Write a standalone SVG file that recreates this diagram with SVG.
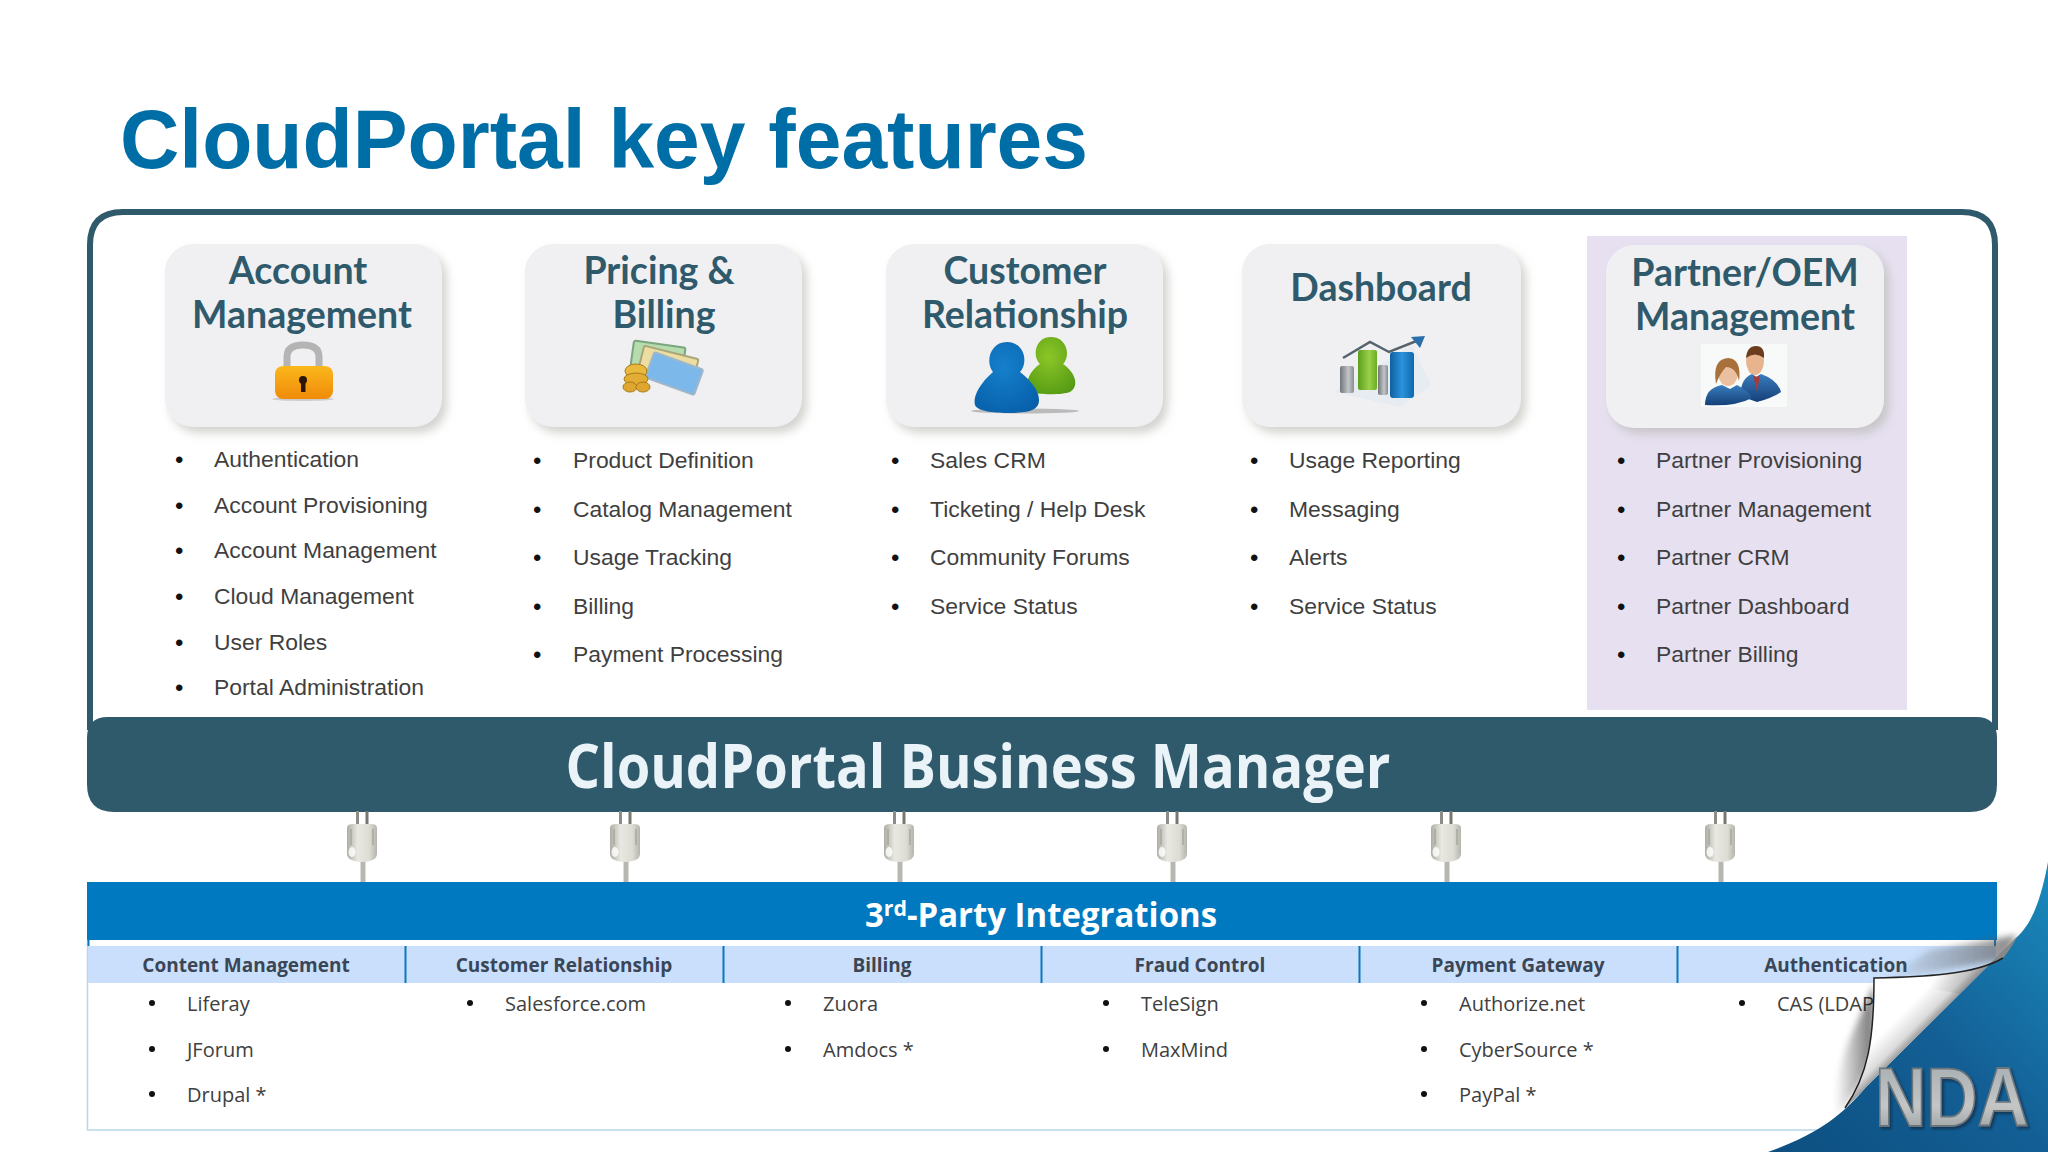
<svg xmlns="http://www.w3.org/2000/svg" width="2048" height="1152" viewBox="0 0 2048 1152">
<style>
.h{font-family:"Lato","Open Sans",sans-serif;font-weight:700;font-size:37.500px;fill:#2f5a6c;text-anchor:middle}
.l{font-family:"Liberation Sans",Arial,sans-serif;font-size:22.900px;fill:#3f3f3f}
.b{font-family:"Liberation Sans",Arial,sans-serif;font-size:24px;fill:#111}
.th{font-family:"Open Sans",sans-serif;font-weight:700;font-size:19px;fill:#3a4656;text-anchor:middle}
.i{font-family:"Open Sans",sans-serif;font-size:20px;fill:#404040}
.card{fill:#f0f0f2;filter:url(#sh)}
</style>
<defs>
<filter id="sh" x="-15%" y="-15%" width="130%" height="130%"><feDropShadow dx="5" dy="6" stdDeviation="5" flood-color="#b5b5ae" flood-opacity=".6"/></filter>
<filter id="soft" x="-20%" y="-20%" width="140%" height="140%"><feGaussianBlur stdDeviation="3"/></filter>
<filter id="ndaS" x="-10%" y="-10%" width="120%" height="120%"><feDropShadow dx="2" dy="2" stdDeviation="1" flood-color="#0a3250" flood-opacity=".8"/></filter>
<linearGradient id="lk" x1="0" y1="0" x2="0" y2="1"><stop offset="0" stop-color="#fbb81c"/><stop offset="1" stop-color="#f08a08"/></linearGradient>
<linearGradient id="plug" x1="0" y1="0" x2="1" y2="0"><stop offset="0" stop-color="#aeada5"/><stop offset=".35" stop-color="#e8e7e1"/><stop offset=".75" stop-color="#dcdbd4"/><stop offset="1" stop-color="#b5b4ac"/></linearGradient>
<linearGradient id="corner" x1="0" y1="1" x2="1" y2="0"><stop offset="0" stop-color="#0d4f80"/><stop offset=".5" stop-color="#135f95"/><stop offset="1" stop-color="#1a8abd"/></linearGradient>
<linearGradient id="flap" gradientUnits="userSpaceOnUse" x1="1874" y1="978" x2="1925" y2="1029"><stop offset="0" stop-color="#fff"/><stop offset=".62" stop-color="#fff"/><stop offset=".88" stop-color="#dcdcdc"/><stop offset="1" stop-color="#9a9a9a"/></linearGradient>
<linearGradient id="flap2" gradientUnits="userSpaceOnUse" x1="1930" y1="0" x2="2017" y2="0"><stop offset="0" stop-color="#777" stop-opacity="0"/><stop offset="1" stop-color="#777" stop-opacity=".6"/></linearGradient>
<linearGradient id="sh1" gradientUnits="userSpaceOnUse" x1="1835" y1="0" x2="1874" y2="0"><stop offset="0" stop-color="#000" stop-opacity="0"/><stop offset="1" stop-color="#000" stop-opacity=".55"/></linearGradient>
<linearGradient id="sh2" gradientUnits="userSpaceOnUse" x1="1885" y1="0" x2="2015" y2="0"><stop offset="0" stop-color="#555" stop-opacity="0"/><stop offset="1" stop-color="#555" stop-opacity=".7"/></linearGradient>
<linearGradient id="nda" x1="0" y1="0" x2="0" y2="1"><stop offset="0" stop-color="#a0a8ad"/><stop offset=".6" stop-color="#c4c6c6"/><stop offset="1" stop-color="#8a9193"/></linearGradient>
<linearGradient id="barB" x1="0" y1="0" x2="1" y2="0"><stop offset="0" stop-color="#0f5f9f"/><stop offset=".5" stop-color="#2b93dc"/><stop offset="1" stop-color="#0f68ad"/></linearGradient>
<linearGradient id="barG" x1="0" y1="0" x2="1" y2="0"><stop offset="0" stop-color="#5c9f1e"/><stop offset=".6" stop-color="#9ad04a"/><stop offset="1" stop-color="#6bad24"/></linearGradient>
<linearGradient id="barN" x1="0" y1="0" x2="1" y2="0"><stop offset="0" stop-color="#70757a"/><stop offset=".6" stop-color="#c3c6c9"/><stop offset="1" stop-color="#8a8d90"/></linearGradient>
<radialGradient id="pb" cx=".45" cy=".35" r=".8"><stop offset="0" stop-color="#1580cc"/><stop offset="1" stop-color="#065ca6"/></radialGradient>
<radialGradient id="pg" cx=".45" cy=".35" r=".8"><stop offset="0" stop-color="#8cc627"/><stop offset="1" stop-color="#4f9612"/></radialGradient>
<linearGradient id="suit" x1="0" y1="0" x2="0" y2="1"><stop offset="0" stop-color="#3a7dbd"/><stop offset="1" stop-color="#143f78"/></linearGradient>
<g id="plugS">
<rect x="-6" y="0" width="3" height="14" fill="#8d8d88"/><rect x="3.500" y="0" width="3" height="14" fill="#77776f"/>
<rect x="-1.500" y="50" width="5" height="21" fill="#b7b7b2"/>
<path d="M-15 17Q-15 13 -9 13H9Q15 13 15 17V43Q15 48 8 50Q0 52 -8 50Q-15 48 -15 43Z" fill="url(#plug)"/>
<path d="M-11 18V34M11 18V34" stroke="#a9a89f" stroke-width="1.500" fill="none"/>
<ellipse cx="-10" cy="41" rx="3.500" ry="5" fill="#fff" opacity=".8"/>
</g>
</defs>
<rect width="2048" height="1152" fill="#fff"/>
<text x="120" y="168" font-family="Liberation Sans,Arial,sans-serif" font-weight="700" font-size="84" fill="#006ea6" textLength="968" lengthAdjust="spacingAndGlyphs">CloudPortal key features</text>

<g id="frame"><path d="M90 730V245Q90 212 123 212H1962Q1995 212 1995 245V730" fill="none" stroke="#2f5a6c" stroke-width="6"/></g>
<g id="partner-panel"><rect x="1587" y="236" width="320" height="474" fill="#e6e0f0"/></g>

<g id="account-management">
<rect class="card" x="165" y="244" width="277" height="183" rx="28"/>
<text class="h" x="298" y="284">Account</text><text class="h" x="302" y="328">Management</text>
<ellipse cx="303" cy="399" rx="31" ry="2" fill="#ccc"/>
<path d="M287 370V357Q287 345 303 345Q319 345 319 357V370" fill="none" stroke="#b4b4b4" stroke-width="7"/>
<rect x="275" y="366" width="58" height="33" rx="8" fill="url(#lk)"/>
<circle cx="303" cy="380" r="4" fill="#2b1608"/><rect x="301" y="381" width="4.500" height="11" fill="#2b1608"/>
<g class="l"><text x="214" y="467">Authentication</text><text x="214" y="513">Account Provisioning</text><text x="214" y="558">Account Management</text><text x="214" y="604">Cloud Management</text><text x="214" y="650">User Roles</text><text x="214" y="695">Portal Administration</text></g>
<g class="b"><text x="175" y="468">•</text><text x="175" y="514">•</text><text x="175" y="559">•</text><text x="175" y="605">•</text><text x="175" y="651">•</text><text x="175" y="696">•</text></g>
</g>

<g id="pricing-billing">
<rect class="card" x="525" y="244" width="277" height="183" rx="28"/>
<text class="h" x="659" y="284">Pricing &amp;</text><text class="h" x="664" y="328">Billing</text>
<rect x="632" y="344" width="52" height="26" rx="2" fill="#b6dcae" stroke="#79a57f" stroke-width="2" transform="rotate(8 658 357)"/>
<rect x="640" y="352" width="56" height="28" rx="2" fill="#eedda0" stroke="#a9a57b" stroke-width="2" transform="rotate(14 668 366)"/>
<rect x="648" y="360" width="52" height="27" rx="2" fill="#7db8ea" stroke="#9fb7c8" stroke-width="2" transform="rotate(20 674 374)"/>
<ellipse cx="636" cy="371" rx="11" ry="7" fill="#e9b93c" stroke="#a87b18"/><ellipse cx="636" cy="379" rx="12" ry="6" fill="#e2ad35" stroke="#a87b18"/><ellipse cx="630" cy="387" rx="7" ry="5" fill="#dfa62f" stroke="#a87b18"/><ellipse cx="643" cy="387" rx="7" ry="5" fill="#dfa62f" stroke="#a87b18"/>
<g class="l"><text x="573" y="468">Product Definition</text><text x="573" y="517">Catalog Management</text><text x="573" y="565">Usage Tracking</text><text x="573" y="614">Billing</text><text x="573" y="662">Payment Processing</text></g>
<g class="b"><text x="533" y="469">•</text><text x="533" y="518">•</text><text x="533" y="566">•</text><text x="533" y="615">•</text><text x="533" y="663">•</text></g>
</g>

<g id="customer-relationship">
<rect class="card" x="886" y="244" width="277" height="183" rx="28"/>
<text class="h" x="1025" y="284">Customer</text><text class="h" x="1025" y="328">Relationship</text>
<ellipse cx="1025" cy="411" rx="54" ry="2.500" fill="#bbb"/>
<path d="M1051 337C1035 337 1032 356 1040 364C1028 372 1024 386 1030 392C1040 395 1062 395 1070 392C1080 386 1075 372 1063 364C1071 356 1067 337 1051 337Z" fill="url(#pg)"/>
<path d="M1007 342C990 342 985 362 993 372C978 385 973 398 975 405C977 412 1000 413 1007 413C1030 413 1039 410 1039 400C1039 390 1030 380 1020 372C1029 362 1024 342 1007 342Z" fill="url(#pb)"/>
<g class="l"><text x="930" y="468">Sales CRM</text><text x="930" y="517">Ticketing / Help Desk</text><text x="930" y="565">Community Forums</text><text x="930" y="614">Service Status</text></g>
<g class="b"><text x="891" y="469">•</text><text x="891" y="518">•</text><text x="891" y="566">•</text><text x="891" y="615">•</text></g>
</g>

<g id="dashboard">
<rect class="card" x="1242" y="244" width="279" height="183" rx="28"/>
<text class="h" x="1381" y="301">Dashboard</text>
<path d="M1334 392L1400 407L1431 385L1412 345Z" fill="#e6ecf1"/>
<rect x="1340" y="366" width="14" height="27" rx="2" fill="url(#barN)"/>
<rect x="1358" y="350" width="19" height="40" rx="2" fill="url(#barG)"/>
<rect x="1378" y="365" width="10" height="30" rx="2" fill="url(#barN)"/>
<rect x="1390" y="352" width="24" height="46" rx="3" fill="url(#barB)"/>
<path d="M1343 358L1370 342L1389 352L1419 340" fill="none" stroke="#55636d" stroke-width="2.500"/>
<path d="M1411 337L1425 336L1420 348Z" fill="#2b6ea9"/>
<g class="l"><text x="1289" y="468">Usage Reporting</text><text x="1289" y="517">Messaging</text><text x="1289" y="565">Alerts</text><text x="1289" y="614">Service Status</text></g>
<g class="b"><text x="1250" y="469">•</text><text x="1250" y="518">•</text><text x="1250" y="566">•</text><text x="1250" y="615">•</text></g>
</g>

<g id="partner-oem-management">
<rect class="card" x="1606" y="245" width="278" height="183" rx="28"/>
<text class="h" x="1745" y="286">Partner/OEM</text><text class="h" x="1745" y="330">Management</text>
<rect x="1701" y="344" width="86" height="63" fill="#f8fafa"/>
<ellipse cx="1755" cy="361" rx="9" ry="14" fill="#e8b48e"/><path d="M1746 358Q1747 346 1756 346Q1765 346 1764 358Q1755 351 1746 358Z" fill="#6b3d1e"/>
<path d="M1740 396Q1741 378 1752 374L1756 377L1761 374Q1778 380 1781 392Q1772 398 1757 402Z" fill="url(#suit)"/><path d="M1753 375L1757 377L1760 375L1757 392Z" fill="#a33b3f"/>
<ellipse cx="1728" cy="373" rx="10" ry="13" fill="#eac0a0"/><path d="M1716 384Q1712 359 1728 358Q1742 359 1739 381Q1736 367 1726 367Q1720 373 1716 384Z" fill="#a8703a"/>
<path d="M1705 405Q1705 388 1722 385L1730 389L1737 385Q1750 392 1752 398Q1735 407 1705 405Z" fill="url(#suit)"/>
<g class="l"><text x="1656" y="468">Partner Provisioning</text><text x="1656" y="517">Partner Management</text><text x="1656" y="565">Partner CRM</text><text x="1656" y="614">Partner Dashboard</text><text x="1656" y="662">Partner Billing</text></g>
<g class="b"><text x="1617" y="469">•</text><text x="1617" y="518">•</text><text x="1617" y="566">•</text><text x="1617" y="615">•</text><text x="1617" y="663">•</text></g>
</g>

<g id="business-manager">
<path d="M87 738Q87 717 108 717H1976Q1997 717 1997 738V784Q1997 812 1970 812H114Q87 812 87 784Z" fill="#2f5a6c"/>
<text x="978" y="788" text-anchor="middle" font-family="Open Sans,sans-serif" font-weight="700" font-size="60" fill="#e9f3f8" textLength="825" lengthAdjust="spacingAndGlyphs">CloudPortal Business Manager</text>
</g>

<g id="connectors">
<use href="#plugS" x="362" y="811"/><use href="#plugS" x="625" y="811"/><use href="#plugS" x="899" y="811"/><use href="#plugS" x="1172" y="811"/><use href="#plugS" x="1446" y="811"/><use href="#plugS" x="1720" y="811"/>
</g>

<g id="integrations">
<rect x="87" y="882" width="1910" height="58" fill="#0079c1"/>
<text x="1041" y="927" text-anchor="middle" font-family="Open Sans,sans-serif" font-weight="700" font-size="34" fill="#fff" textLength="352" lengthAdjust="spacingAndGlyphs">3<tspan font-size="22" dy="-11">rd</tspan><tspan dy="11">-Party Integrations</tspan></text>
<path d="M87.500 940V1130H1830" fill="none" stroke="#b8d8ea" stroke-width="1.500"/>
<path d="M88.500 940V946M1995 940V950" stroke="#0079c1" stroke-width="2"/>
<rect x="88" y="946" width="1908" height="37" fill="#c9dffb"/>
<path d="M405.500 946V983M723.500 946V983M1041.500 946V983M1359.500 946V983M1677.500 946V983" stroke="#0a78bf" stroke-width="2"/>
<text class="th" x="246" y="972">Content Management</text><text class="th" x="564" y="972">Customer Relationship</text><text class="th" x="882" y="972">Billing</text><text class="th" x="1200" y="972">Fraud Control</text><text class="th" x="1518" y="972">Payment Gateway</text><text class="th" x="1836" y="972">Authentication</text>
<g class="i">
<text x="187" y="1011">Liferay</text><text x="187" y="1057">JForum</text><text x="187" y="1102">Drupal *</text>
<text x="505" y="1011">Salesforce.com</text>
<text x="823" y="1011">Zuora</text><text x="823" y="1057">Amdocs *</text>
<text x="1141" y="1011">TeleSign</text><text x="1141" y="1057">MaxMind</text>
<text x="1459" y="1011">Authorize.net</text><text x="1459" y="1057">CyberSource *</text><text x="1459" y="1102">PayPal *</text>
<text x="1777" y="1011">CAS (LDAP</text>
</g>
<g fill="#111"><circle cx="152" cy="1003" r="3"/><circle cx="152" cy="1049" r="3"/><circle cx="152" cy="1094" r="3"/><circle cx="470" cy="1003" r="3"/><circle cx="788" cy="1003" r="3"/><circle cx="788" cy="1049" r="3"/><circle cx="1106" cy="1003" r="3"/><circle cx="1106" cy="1049" r="3"/><circle cx="1424" cy="1003" r="3"/><circle cx="1424" cy="1049" r="3"/><circle cx="1424" cy="1094" r="3"/><circle cx="1742" cy="1003" r="3"/></g>
</g>

<g id="page-curl">
<path d="M1874 985L1874 1045Q1866 1085 1832 1122Q1832 1075 1858 1020Z" fill="url(#sh1)" filter="url(#soft)"/>
<path d="M1883 980L1930 950L2017 935L2003 960Z" fill="url(#sh2)" filter="url(#soft)"/>
<path d="M2048 862C2040 905 2030 925 2017 937L1866 1087C1840 1118 1815 1135 1768 1152H2048Z" fill="url(#corner)"/>
<path d="M1874 978C1920 977 1975 975 2003 958C2008 952 2013 944 2017 937L1866 1087C1858 1096 1851 1103 1845 1108C1868 1075 1874 1040 1874 978Z" fill="url(#flap)"/>
<path d="M1874 978C1920 977 1975 975 2003 958C2008 952 2013 944 2017 937L1960 994Z" fill="url(#flap2)"/>
<path d="M1845 1108C1868 1075 1874 1040 1874 978C1920 977 1975 975 2003 958" fill="none" stroke="#222" stroke-width="1.500"/>
<text transform="translate(1875 1126) scale(1 1.170)" font-family="Liberation Sans,Arial,sans-serif" font-weight="700" font-size="71" fill="url(#nda)" stroke="#6a757b" stroke-width="1.500" filter="url(#ndaS)">NDA</text>
</g>
</svg>
